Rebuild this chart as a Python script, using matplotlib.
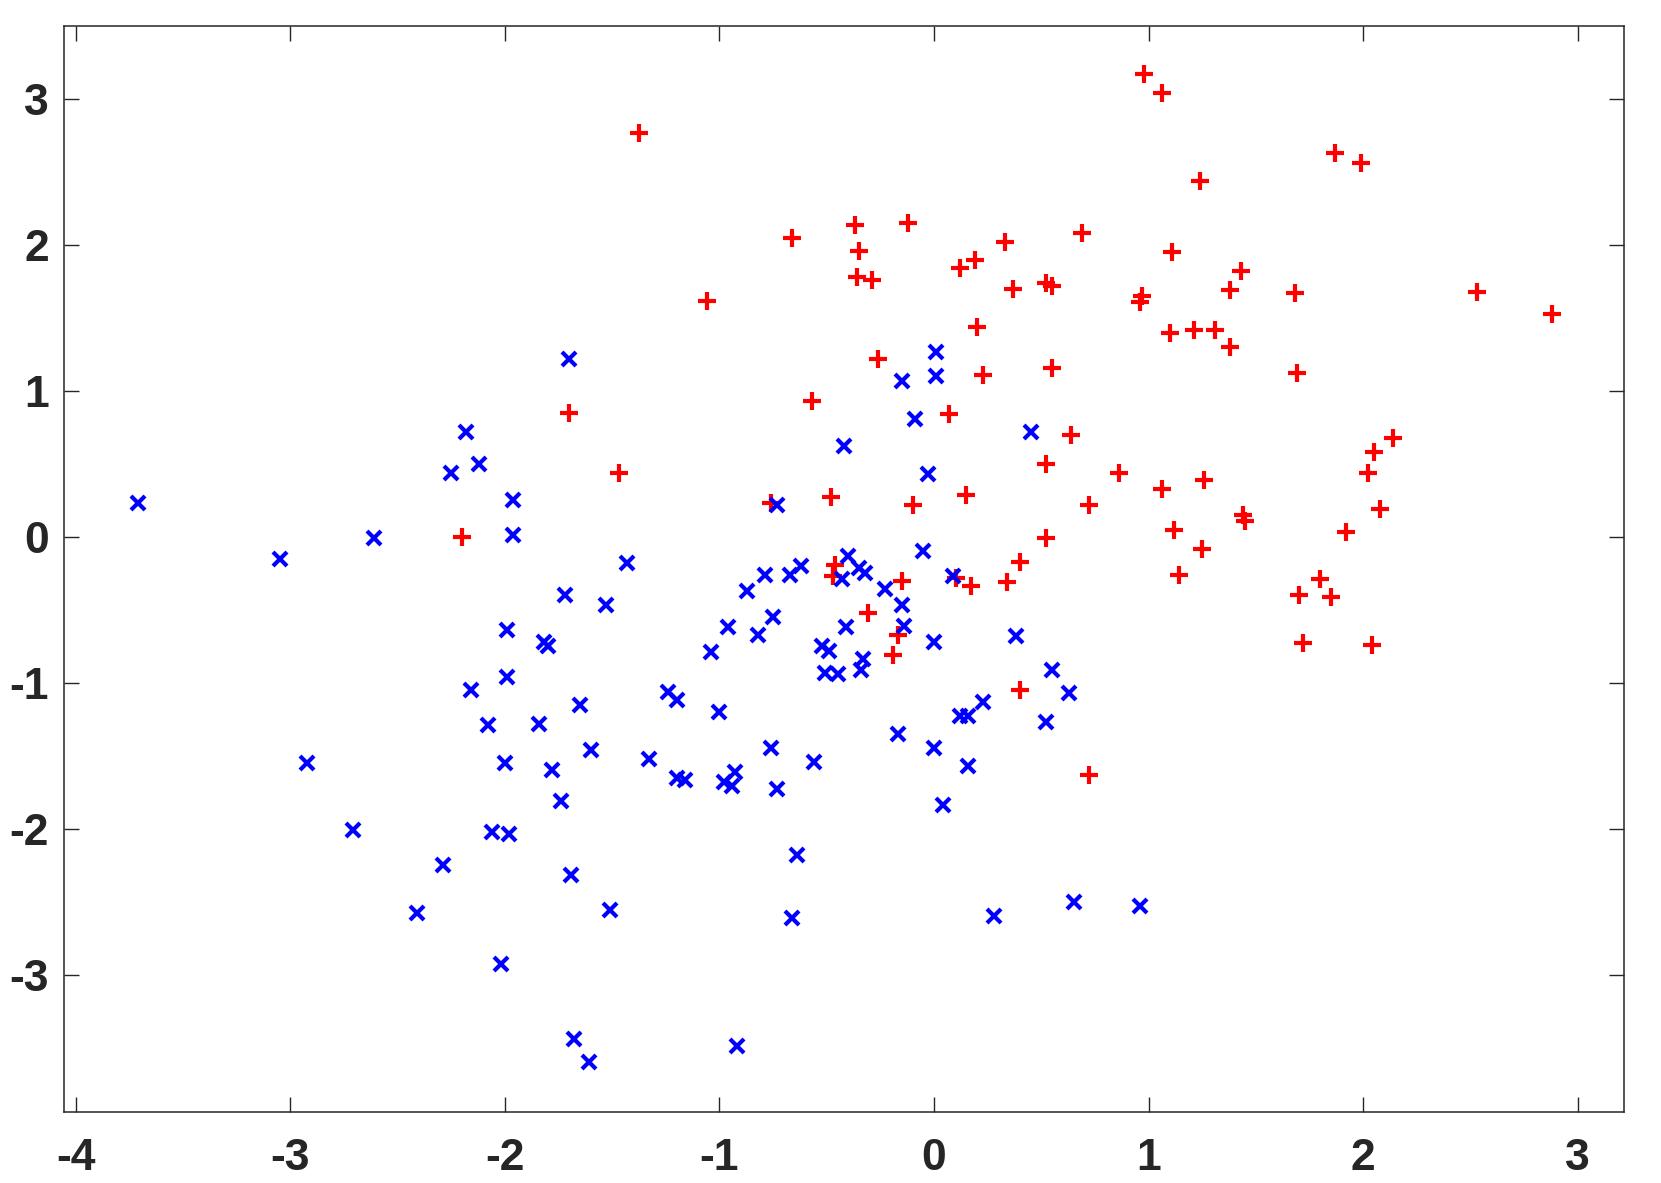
import matplotlib.pyplot as plt
import numpy as np

#%% Data
red_x = [-1.375, 0.98, 1.06, 1.24, 1.87, 1.99, -0.66, -0.37, -0.12, 0.33,
         0.69, -0.35, 0.12, 0.19, -0.36, -0.29, 1.11, 1.43, 0.37, 0.52,
         0.55, 0.97, 0.96, 1.38, 1.68, 2.53, 2.88, -1.06, 0.20, 1.10,
         1.21, 1.31, 1.38, -0.26, 0.55, 0.23, 1.69, -0.57, -1.70, 0.07,
         0.64, 2.14, 2.05, 0.52, 0.86, 2.02, -1.47, 1.26, 1.06, 0.15,
         -0.48, -0.76, -0.10, 0.72, 2.08, 1.44, 1.45, 1.12, 1.92, -2.20,
         0.52, 1.25, 0.40, 1.14, -0.46, -0.47, -0.15, 0.10, 0.17, 0.34,
         1.80, 1.70, 1.85, -0.31, -0.17, -0.19, 1.72, 2.04, 0.40, 0.72]
red_y = [2.77, 3.17, 3.04, 2.44, 2.63, 2.56, 2.05, 2.14, 2.15, 2.02,
         2.08, 1.96, 1.84, 1.90, 1.78, 1.76, 1.95, 1.82, 1.70, 1.74,
         1.72, 1.65, 1.61, 1.69, 1.67, 1.68, 1.53, 1.62, 1.44, 1.40,
         1.42, 1.42, 1.30, 1.22, 1.16, 1.11, 1.12, 0.93, 0.85, 0.84,
         0.70, 0.68, 0.58, 0.50, 0.44, 0.44, 0.44, 0.39, 0.33, 0.29,
         0.27, 0.23, 0.22, 0.22, 0.19, 0.15, 0.11, 0.05, 0.03, 0.00,
         -0.01, -0.08, -0.17, -0.26, -0.19, -0.27, -0.30, -0.28, -0.34, -0.31,
         -0.29, -0.40, -0.41, -0.52, -0.67, -0.81, -0.73, -0.74, -1.05, -1.63]

blue_x = [-3.71, -3.05, -2.61, -2.92, -2.71, -2.41, -2.29, -2.25, -2.18, -2.12,
          -1.96, -1.96, -1.70, -2.16, -2.08, -1.99, -1.99, -2.00, -2.06, -1.98,
          -2.02, -1.84, -1.82, -1.80, -1.78, -1.74, -1.72, -1.69, -1.68, -1.61,
          -1.65, -1.60, -1.53, -1.51, -1.43, -1.33, -1.24, -1.20, -1.20, -1.16,
          -1.04, -1.00, -0.98, -0.96, -0.94, -0.93, -0.92, -0.87, -0.82, -0.79,
          -0.76, -0.75, -0.73, -0.73, -0.67, -0.62, -0.64, -0.66, -0.56, -0.52,
          -0.49, -0.51, -0.45, -0.43, -0.41, -0.42, -0.40, -0.35, -0.32, -0.33,
          -0.34, -0.23, -0.17, -0.15, -0.15, -0.14, -0.09, -0.05, -0.03, 0.00,
          0.00, 0.04, 0.01, 0.01, 0.09, 0.12, 0.16, 0.16, 0.23, 0.28,
          0.38, 0.45, 0.52, 0.55, 0.63, 0.65, 0.96]
blue_y = [0.23, -0.15, -0.01, -1.55, -2.01, -2.58, -2.25, 0.44, 0.72, 0.50,
          0.25, 0.01, 1.22, -1.05, -1.29, -0.64, -0.96, -1.55, -2.02, -2.04,
          -2.93, -1.28, -0.72, -0.75, -1.60, -1.81, -0.40, -2.32, -3.44, -3.60,
          -1.15, -1.46, -0.47, -2.56, -0.18, -1.52, -1.06, -1.12, -1.65, -1.67,
          -0.79, -1.20, -1.68, -0.62, -1.71, -1.61, -3.49, -0.37, -0.67, -0.26,
          -1.45, -0.55, -1.73, 0.22, -0.26, -0.20, -2.18, -2.61, -1.54, -0.75,
          -0.78, -0.93, -0.94, -0.29, -0.62, 0.62, -0.13, -0.21, -0.25, -0.84,
          -0.91, -0.36, -1.35, 1.07, -0.47, -0.61, 0.81, -0.10, 0.43, -0.72,
          -1.45, -1.84, 1.27, 1.10, -0.27, -1.23, -1.23, -1.57, -1.13, -2.60,
          -0.68, 0.72, -1.27, -0.91, -1.07, -2.50, -2.53]

xticks = np.arange(-4, 4)
yticks = np.arange(-3, 4)

#%% Plot
plt.rcParams['font.family'] = ['Liberation Sans', 'DejaVu Sans']
axcol = '#262626'

fig = plt.figure(figsize=(16.61, 11.83), dpi=100)
ax = fig.add_axes([0.0385, 0.0603, 0.9392, 0.918])

ax.plot(red_x, red_y, '+', color='red', markersize=12.5, markeredgewidth=3.0, linestyle='none')
ax.plot(blue_x, blue_y, 'x', color='blue', markersize=10, markeredgewidth=3.0, linestyle='none')

ax.set_xlim(-4.055, 3.215)
ax.set_ylim(-3.94, 3.504)
ax.set_xticks(xticks)
ax.set_yticks(yticks)
ax.set_xticklabels([str(v) for v in xticks], fontsize=32, fontweight='bold', color=axcol)
ax.set_yticklabels([str(v) for v in yticks], fontsize=32, fontweight='bold', color=axcol)

ax.tick_params(direction='in', top=True, right=True, length=11, width=1, color=axcol)
ax.tick_params(axis='x', pad=19)
ax.tick_params(axis='y', pad=11)
for s in ax.spines.values():
    s.set_color(axcol)
    s.set_linewidth(1.1)

plt.savefig('out.png')
